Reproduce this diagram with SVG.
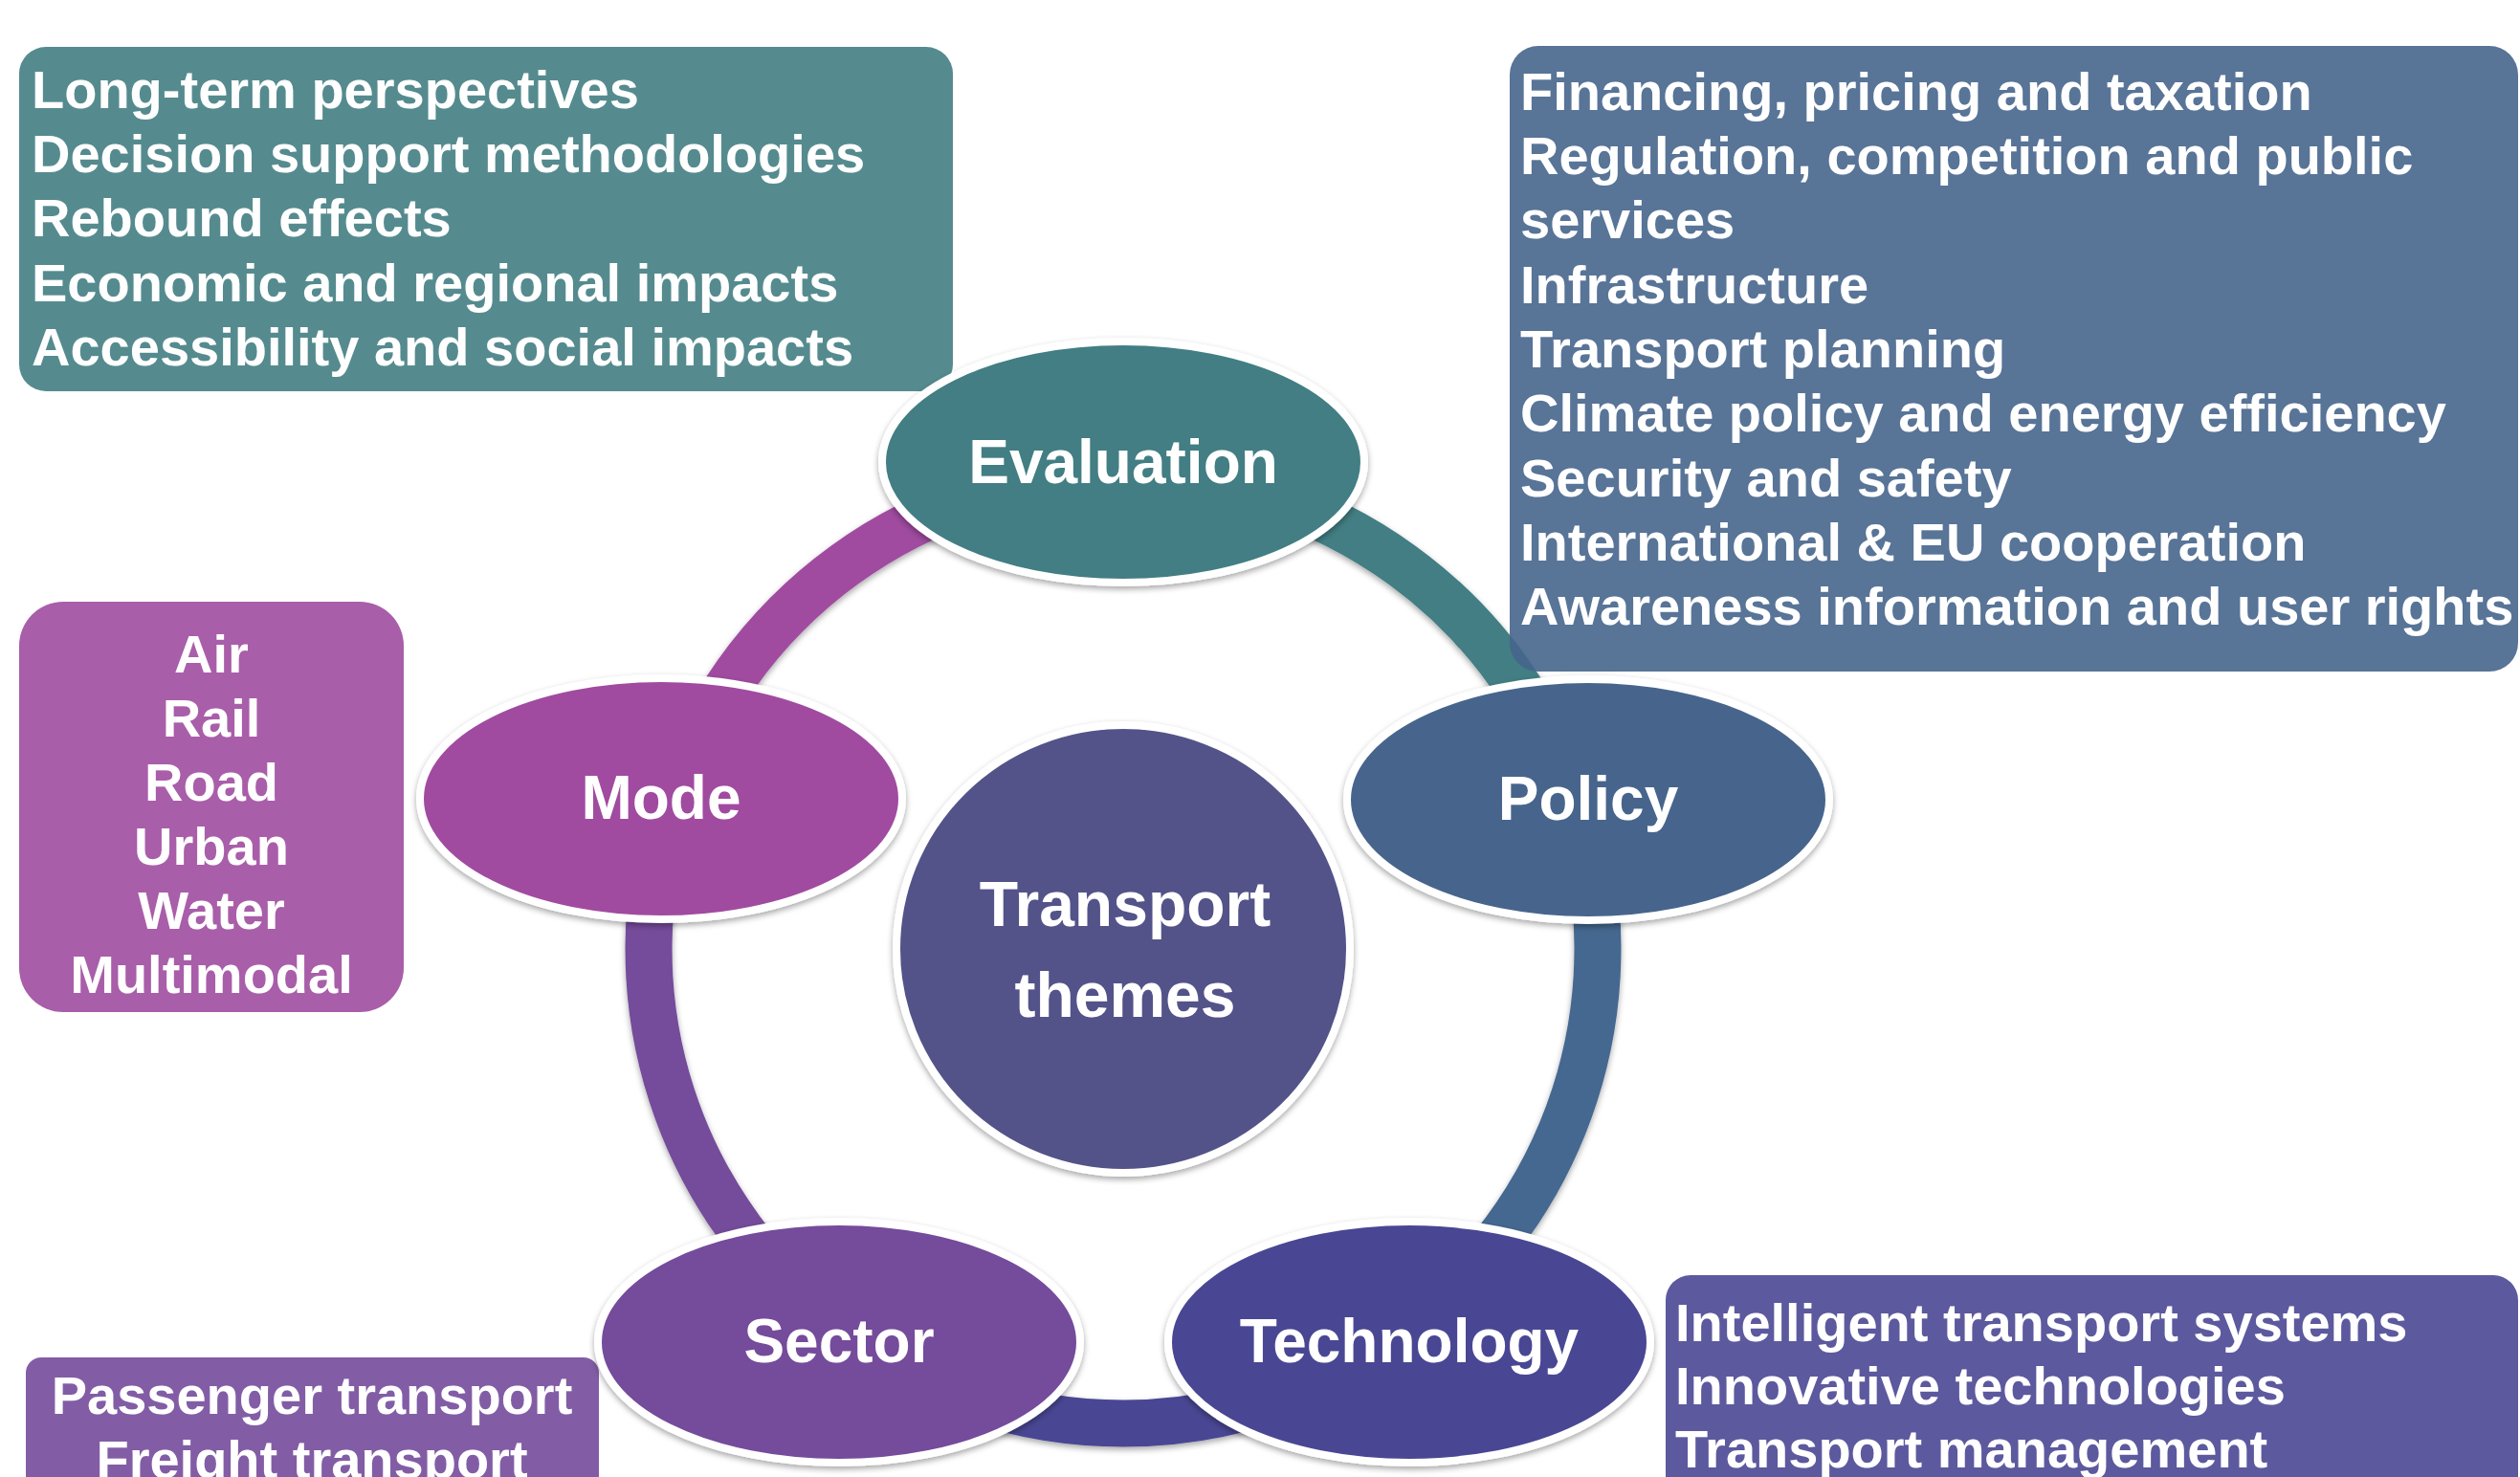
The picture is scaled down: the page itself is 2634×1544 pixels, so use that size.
<svg xmlns="http://www.w3.org/2000/svg" width="2634" height="1544" viewBox="0 0 2634 1544">
  <defs>
    <filter id="sh" x="-10%" y="-10%" width="120%" height="130%">
      <feDropShadow dx="0" dy="3" stdDeviation="3" flood-color="#000" flood-opacity="0.35"/>
    </filter>
    <style>
      text { font-family: "Liberation Sans", Arial, sans-serif; font-weight: bold; fill: #ffffff; }
      .list { font-size: 56px; }
      .mid { text-anchor: middle; }
      .node { font-size: 64px; text-anchor: middle; }
      .ell { stroke: #ffffff; stroke-width: 8; filter: url(#sh); }
      .arc { fill: none; stroke-width: 49; stroke-linecap: butt; }
      .box { fill-opacity: 0.9; }
    </style>
  </defs>
  <rect width="2634" height="1544" fill="#ffffff"/>

  <!-- connectors: ring arcs -->
  <g id="connectors" filter="url(#sh)">
    <path class="arc" stroke="#a04ca0" d="M 702.3 838.7 A 496 496 0 0 1 1174 496"/>
    <path class="arc" stroke="#437e83" d="M 1174 496 A 496 496 0 0 1 1645.7 838.7"/>
    <path class="arc" stroke="#456790" d="M 1645.7 838.7 A 496 496 0 0 1 1465.5 1393.3"/>
    <path class="arc" stroke="#4a4793" d="M 1465.5 1393.3 A 496 496 0 0 1 882.5 1393.3"/>
    <path class="arc" stroke="#744b9b" d="M 882.5 1393.3 A 496 496 0 0 1 702.3 838.7"/>
  </g>

  <!-- text boxes -->
  <g id="box-evaluation">
    <rect class="box" x="20" y="49" width="976" height="360" rx="28" fill="#437e83"/>
    <text class="list" x="33" y="113">Long-term perspectives</text>
    <text class="list" x="33" y="180">Decision support methodologies</text>
    <text class="list" x="33" y="247">Rebound effects</text>
    <text class="list" x="33" y="315">Economic and regional impacts</text>
    <text class="list" x="33" y="382">Accessibility and social impacts</text>
  </g>
  <g id="box-policy">
    <rect class="box" x="1578" y="48" width="1054" height="654" rx="30" fill="#46658c"/>
    <text class="list" x="1589" y="115">Financing, pricing and taxation</text>
    <text class="list" x="1589" y="182">Regulation, competition and public</text>
    <text class="list" x="1589" y="249">services</text>
    <text class="list" x="1589" y="317">Infrastructure</text>
    <text class="list" x="1589" y="384">Transport planning</text>
    <text class="list" x="1589" y="451">Climate policy and energy efficiency</text>
    <text class="list" x="1589" y="519">Security and safety</text>
    <text class="list" x="1589" y="586">International &amp; EU cooperation</text>
    <text class="list" x="1589" y="653">Awareness information and user rights</text>
  </g>
  <g id="box-mode">
    <rect class="box" x="20" y="629" width="402" height="429" rx="46" fill="#a04ca0"/>
    <text class="list mid" x="221" y="703">Air</text>
    <text class="list mid" x="221" y="770">Rail</text>
    <text class="list mid" x="221" y="837">Road</text>
    <text class="list mid" x="221" y="904">Urban</text>
    <text class="list mid" x="221" y="971">Water</text>
    <text class="list mid" x="221" y="1038">Multimodal</text>
  </g>
  <g id="box-sector">
    <rect class="box" x="27" y="1419" width="599" height="200" rx="16" fill="#744b9b"/>
    <text class="list mid" x="326" y="1478">Passenger transport</text>
    <text class="list mid" x="326" y="1545">Freight transport</text>
  </g>
  <g id="box-technology">
    <rect class="box" x="1741" y="1333" width="891" height="280" rx="26" fill="#4a4793"/>
    <text class="list" x="1751" y="1402">Intelligent transport systems</text>
    <text class="list" x="1751" y="1468">Innovative technologies</text>
    <text class="list" x="1751" y="1534">Transport management</text>
  </g>

  <!-- nodes -->
  <g id="node-evaluation">
    <ellipse class="ell" cx="1174" cy="483" rx="252" ry="126" fill="#437e83"/>
    <text class="node" x="1174" y="505">Evaluation</text>
  </g>
  <g id="node-policy">
    <ellipse class="ell" cx="1660" cy="836" rx="252" ry="126" fill="#46658c"/>
    <text class="node" x="1660" y="857">Policy</text>
  </g>
  <g id="node-technology">
    <ellipse class="ell" cx="1473" cy="1403" rx="252" ry="126" fill="#4a4793"/>
    <text class="node" x="1473" y="1424">Technology</text>
  </g>
  <g id="node-sector">
    <ellipse class="ell" cx="877" cy="1403" rx="252" ry="126" fill="#744b9b"/>
    <text class="node" x="877" y="1424">Sector</text>
  </g>
  <g id="node-mode">
    <ellipse class="ell" cx="691" cy="835" rx="252" ry="126" fill="#a04ca0"/>
    <text class="node" x="691" y="856">Mode</text>
  </g>
  <g id="node-center">
    <ellipse class="ell" cx="1174" cy="992" rx="237" ry="234" fill="#535389"/>
    <text class="node" style="font-size:66px" x="1176" y="968">Transport</text>
    <text class="node" style="font-size:66px" x="1176" y="1063">themes</text>
  </g>
</svg>
